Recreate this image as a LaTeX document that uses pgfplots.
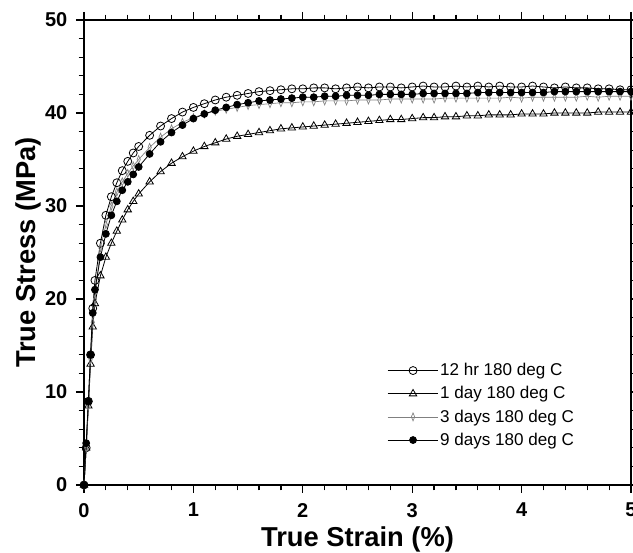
\documentclass[border=0pt]{standalone}
\usepackage{fontspec}
\setmainfont{Liberation Sans}
\usepackage{pgfplots}
\pgfplotsset{compat=1.18}
\pgfplotstableread{
x y
0 0
0.02 4
0.04 9
0.06 14
0.08 19
0.1 22
0.15 26
0.2 29
0.25 31
0.3 32.5
0.35 33.8
0.4 34.8
0.45 35.7
0.5 36.4
0.6 37.6
0.7 38.6
0.8 39.4
0.9 40.1
1.0 40.6
1.1 41.0
1.2 41.4
1.3 41.7
1.4 41.9
1.5 42.1
1.6 42.3
1.7 42.4
1.8 42.5
1.9 42.6
2.0 42.6
2.1 42.7
2.2 42.7
2.3 42.6
2.4 42.7
2.5 42.8
2.6 42.7
2.7 42.8
2.8 42.8
2.9 42.7
3.0 42.8
3.1 42.9
3.2 42.8
3.3 42.8
3.4 42.9
3.5 42.8
3.6 42.9
3.7 42.8
3.8 42.9
3.9 42.8
4.0 42.8
4.1 42.9
4.2 42.8
4.3 42.7
4.4 42.8
4.5 42.7
4.6 42.7
4.7 42.6
4.8 42.6
4.9 42.5
5.0 42.5
}\twelvehr
\pgfplotstableread{
x y
0 0
0.02 4
0.04 8.5
0.06 13
0.08 17
0.1 19.5
0.15 22.5
0.2 24.5
0.25 26
0.3 27.3
0.35 28.5
0.4 29.6
0.45 30.5
0.5 31.3
0.6 32.6
0.7 33.7
0.8 34.6
0.9 35.3
1.0 35.9
1.1 36.4
1.2 36.8
1.3 37.2
1.4 37.5
1.5 37.7
1.6 37.9
1.7 38.1
1.8 38.3
1.9 38.4
2.0 38.5
2.1 38.6
2.2 38.7
2.3 38.8
2.4 38.9
2.5 39.0
2.6 39.1
2.7 39.2
2.8 39.3
2.9 39.3
3.0 39.4
3.1 39.5
3.2 39.5
3.3 39.6
3.4 39.6
3.5 39.7
3.6 39.7
3.7 39.8
3.8 39.8
3.9 39.8
4.0 39.9
4.1 39.9
4.2 39.9
4.3 40.0
4.4 40.0
4.5 40.0
4.6 40.0
4.7 40.1
4.8 40.1
4.9 40.1
5.0 40.1
}\oneday
\pgfplotstableread{
x y
0 0
0.02 4
0.04 8.5
0.06 13.5
0.08 17.5
0.1 20
0.15 25.5
0.2 28
0.25 30
0.3 31.5
0.35 32.6
0.4 33.5
0.45 34.3
0.5 35
0.6 36.3
0.7 37.4
0.8 38.3
0.9 39
1.0 39.5
1.1 39.9
1.2 40.2
1.3 40.4
1.4 40.6
1.5 40.8
1.6 40.9
1.7 41.0
1.8 41.1
1.9 41.1
2.0 41.2
2.1 41.2
2.2 41.3
2.3 41.3
2.4 41.3
2.5 41.4
2.6 41.4
2.7 41.4
2.8 41.5
2.9 41.5
3.0 41.5
3.1 41.5
3.2 41.5
3.3 41.6
3.4 41.6
3.5 41.6
3.6 41.6
3.7 41.6
3.8 41.6
3.9 41.7
4.0 41.6
4.1 41.7
4.2 41.7
4.3 41.7
4.4 41.7
4.5 41.7
4.6 41.8
4.7 41.7
4.8 41.8
4.9 41.8
5.0 41.8
}\threedays
\pgfplotstableread{
x y
0 0
0.02 4.5
0.04 9
0.06 14
0.08 18.5
0.1 21
0.15 24.5
0.2 27
0.25 29
0.3 30.5
0.35 31.7
0.4 32.6
0.45 33.4
0.5 34.2
0.6 35.6
0.7 36.9
0.8 37.9
0.9 38.7
1.0 39.4
1.1 39.9
1.2 40.3
1.3 40.6
1.4 40.9
1.5 41.1
1.6 41.3
1.7 41.4
1.8 41.5
1.9 41.6
2.0 41.7
2.1 41.7
2.2 41.8
2.3 41.8
2.4 41.9
2.5 41.9
2.6 41.9
2.7 42.0
2.8 42.0
2.9 42.0
3.0 42.0
3.1 42.1
3.2 42.1
3.3 42.1
3.4 42.1
3.5 42.1
3.6 42.2
3.7 42.2
3.8 42.2
3.9 42.2
4.0 42.2
4.1 42.2
4.2 42.2
4.3 42.3
4.4 42.3
4.5 42.3
4.6 42.3
4.7 42.3
4.8 42.3
4.9 42.3
5.0 42.3
}\ninedays
\begin{document}
\begin{tikzpicture}
\begin{axis}[
  at={(0,0)}, anchor=south west,
  scale only axis,
  width=410.25pt, height=348.75pt,
  xmin=0, xmax=5, ymin=0, ymax=50,
  xtick={0,1,2,3,4,5}, ytick={0,10,20,30,40,50},
  minor x tick num=4, minor y tick num=4,
  tick align=outside,
  major tick length=6pt, minor tick length=4pt,
  axis line style={line width=1.1pt},
  every tick/.style={black, line width=0.9pt},
  /pgf/number format/assume math mode=true,
  tick label style={font=\fontsize{15}{18}\selectfont\bfseries},
  xticklabel style={yshift=-4pt},
  yticklabel style={xshift=-3pt},
  xlabel={\fontsize{20.5}{24}\selectfont\bfseries True Strain (\%)},
  ylabel={\fontsize{20.5}{24}\selectfont\bfseries True Stress (MPa)},
  xlabel style={yshift=-0.5pt},
  ylabel style={yshift=-4pt},
  legend style={at={(0.554,0.265)}, anchor=north west, draw=none, fill=none,
    font=\fontsize{12.8}{15}\selectfont, row sep=4.6pt, inner sep=0pt,
    nodes={inner sep=1pt},
    legend cell align=left},
  legend image code/.code={%
    \draw[mark repeat=2, mark phase=2, #1]
      plot coordinates {(0pt,0pt) (19pt,0pt) (38pt,0pt)};},
  every axis plot/.append style={line width=0.6pt},
]
\addplot[black, mark=o, mark size=3pt, mark options={fill=white}] table {\twelvehr};
\addlegendentry{12 hr 180 deg C}
\addplot[black, mark=triangle, mark size=3.2pt, mark options={fill=white}] table {\oneday};
\addlegendentry{1 day 180 deg C}
\addplot[gray, line width=0.5pt, mark=diamond, mark size=3pt, mark options={fill=white, xscale=0.55}] table {\threedays};
\addlegendentry{3 days 180 deg C}
\addplot[black, mark=*, mark size=2.6pt] table {\ninedays};
\addlegendentry{9 days 180 deg C}
\end{axis}
\pgfresetboundingbox
\useasboundingbox (-63pt,-51pt) rectangle (411.75pt,363.75pt);
\end{tikzpicture}
\end{document}
